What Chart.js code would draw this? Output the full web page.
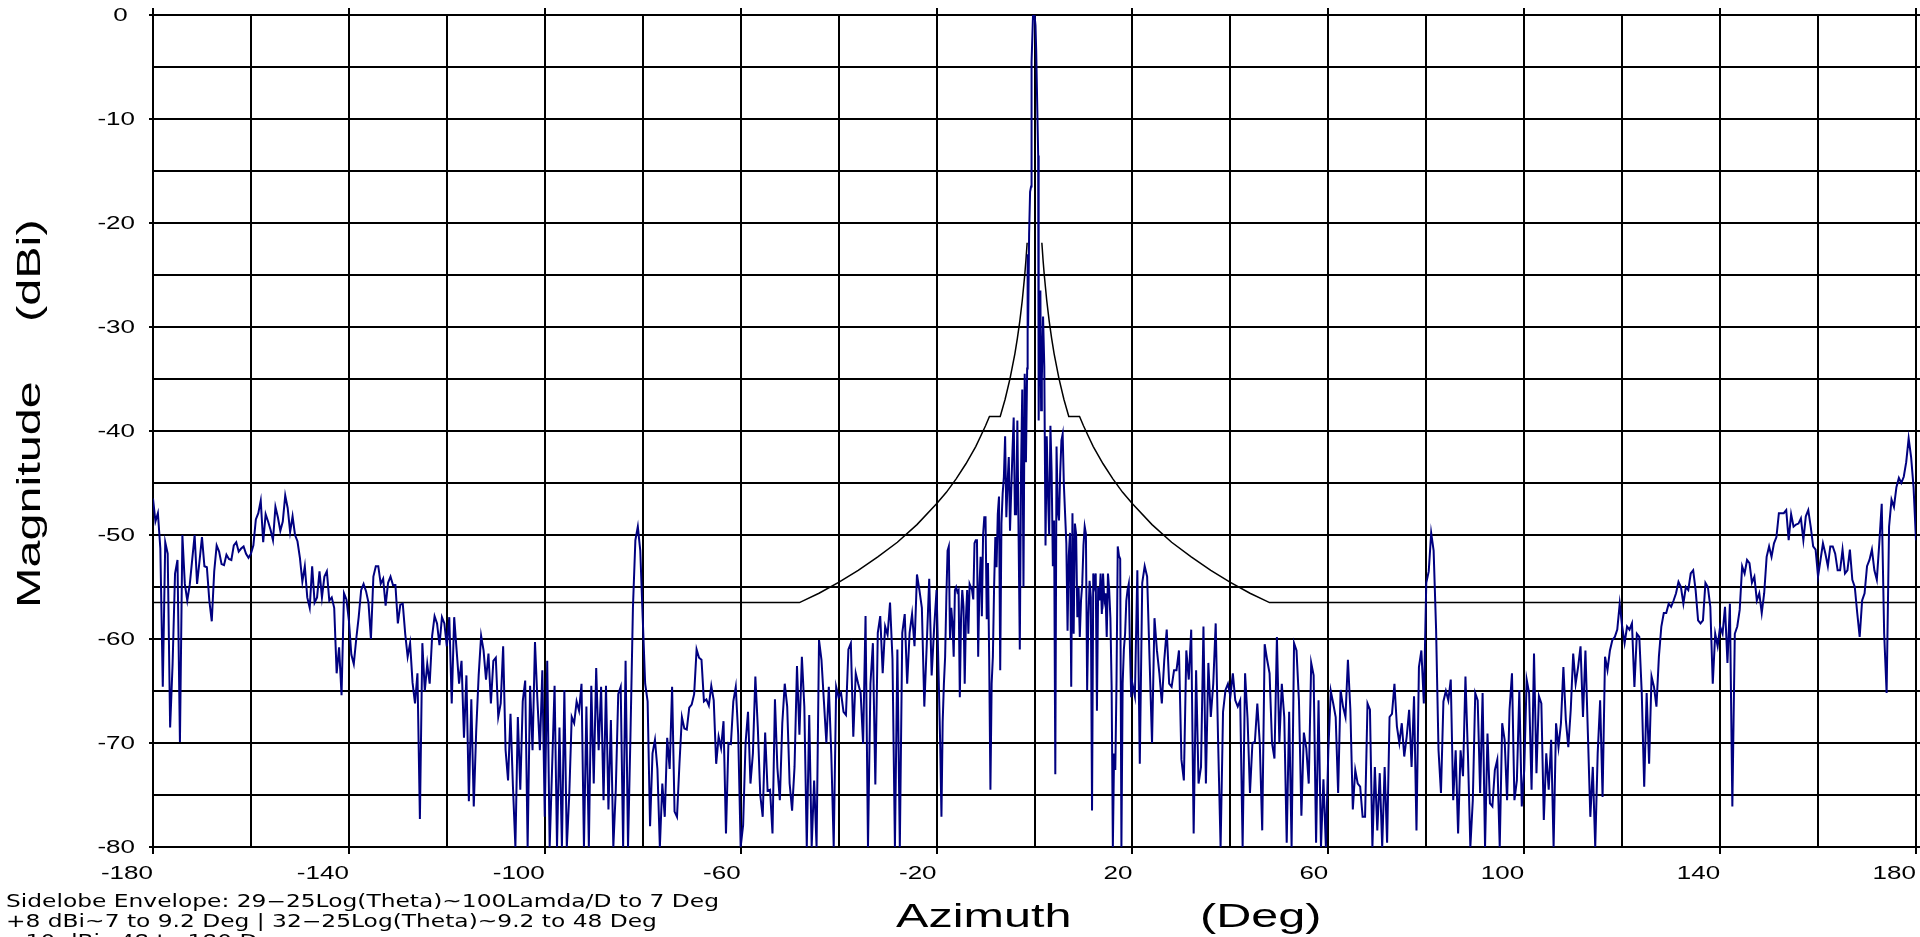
<!DOCTYPE html>
<html lang="en">
<head>
<meta charset="UTF-8">
<title>Azimuth pattern - Magnitude (dBi)</title>
<script src="https://cdn.jsdelivr.net/npm/chart.js@4.4.1/dist/chart.umd.min.js"></script>
<style>
  html, body { margin: 0; padding: 0; background: #fff; }
  canvas { display: block; }
</style>
</head>
<body>
<canvas id="grafico" width="1920" height="937"></canvas>
<script>
  // measured pattern, 0.5 deg samples from -180 to -20.5
  const leftStart = -180;
  const leftMag = [
    -46.5, -48.7, -47.9, -51.3, -64.6, -50.7, -51.8, -68.5, -62.4, -53.7,
    -52.4, -69.9, -50.0, -54.7, -56.3, -54.8, -52.4, -50.0, -54.7, -52.5,
    -50.2, -53.0, -53.1, -56.3, -58.3, -53.5, -51.0, -51.6, -52.8, -52.9,
    -51.9, -52.3, -52.4, -51.0, -50.7, -51.6, -51.3, -51.1, -51.8, -52.2,
    -51.8, -51.0, -48.5, -47.9, -46.7, -50.7, -48.0, -48.7, -49.5, -50.5,
    -47.3, -48.3, -49.6, -48.7, -46.2, -47.4, -49.7, -48.2, -50.0, -50.6,
    -52.2, -54.5, -53.0, -56.0, -57.0, -53.0, -56.5, -56.0, -53.5, -56.0,
    -54.0, -53.5, -56.3, -56.0, -57.0, -63.3, -60.8, -65.4, -55.6, -56.2,
    -58.2, -61.5, -62.4, -60.0, -57.9, -55.3, -54.7, -55.4, -56.5, -60.0,
    -54.0, -53.0, -53.0, -54.7, -54.2, -56.8, -54.6, -54.0, -54.8, -54.8,
    -58.5, -56.7, -56.6, -59.5, -61.7, -60.4, -64.2, -66.2, -63.3, -77.3,
    -60.4, -65.0, -62.4, -64.3, -59.7, -57.8, -58.5, -60.6, -57.9, -58.5,
    -60.7, -57.9, -66.2, -57.9, -61.1, -64.3, -62.1, -69.5, -63.5, -75.6,
    -65.8, -76.1, -68.8, -63.5, -59.7, -61.1, -63.9, -61.4, -66.2, -62.1,
    -61.8, -67.5, -66.2, -60.7, -70.7, -73.6, -67.2, -74.2, -80.0, -67.5,
    -74.5, -66.0, -64.0, -80.0, -64.5, -70.7, -60.3, -65.9, -70.7, -63.0,
    -77.1, -62.1, -80.0, -72.3, -64.5, -80.0, -68.5, -80.0, -64.9, -80.0,
    -75.0, -67.5, -68.1, -66.0, -66.9, -64.3, -80.0, -66.5, -80.0, -64.5,
    -73.9, -62.8, -70.7, -64.6, -75.5, -64.5, -76.4, -67.8, -80.0, -74.5,
    -65.3, -64.6, -80.0, -62.1, -80.0, -69.2, -57.0, -50.5, -49.2, -51.5,
    -58.0, -64.3, -66.0, -78.0, -71.0, -69.7, -72.5, -80.0, -73.9, -77.1,
    -69.5, -72.5, -64.6, -76.6, -77.1, -72.0, -67.5, -68.6, -68.7, -66.6,
    -66.3, -65.3, -61.0, -61.8, -62.0, -66.0, -65.8, -66.4, -64.5, -65.9,
    -72.0, -69.4, -70.5, -67.9, -78.7, -70.0, -70.1, -66.0, -64.6, -69.2,
    -80.0, -77.9, -70.0, -67.0, -73.9, -71.0, -63.6, -68.5, -75.0, -77.1,
    -69.0, -74.6, -74.5, -78.7, -65.8, -72.4, -75.5, -68.1, -64.3, -66.5,
    -73.9, -76.5, -72.3, -62.6, -69.2, -61.7, -66.5, -80.0, -67.3, -80.0,
    -73.6, -80.0, -60.1, -62.0, -66.0, -70.0, -64.6, -71.0, -80.0, -64.6,
    -65.6, -65.2, -67.0, -67.3, -61.0, -60.4, -69.4, -63.3, -64.3, -65.2,
    -70.1, -57.8, -80.0, -64.3, -60.4, -74.0, -59.4, -57.8, -63.3, -58.8,
    -59.6, -56.5, -61.9, -80.0, -61.0, -80.0, -59.4, -57.6, -64.3, -59.4,
    -57.6, -60.7, -53.8, -55.3, -57.0, -66.5, -60.5, -54.2, -63.5, -59.0
  ];

  // main beam region, finer samples
  const centerAz = [
    -20, -19.75, -19.5, -19.25, -19, -18.75, -18.5, -18.25, -18, -17.75,
    -17.5, -17.25, -17, -16.75, -16.5, -16.25, -16, -15.75, -15.5, -15.25,
    -15, -14.75, -14.5, -14.25, -14, -13.75, -13.5, -13.25, -13, -12.75,
    -12.5, -12.25, -12, -11.75, -11.5, -11.25, -11, -10.75, -10.5, -10.25,
    -10, -9.75, -9.5, -9.25, -9, -8.75, -8.5, -8.25, -8, -7.75,
    -7.5, -7.25, -7, -6.75, -6.5, -6.25, -6, -5.75, -5.5, -5.25,
    -5, -4.75, -4.5, -4.25, -4, -3.75, -3.5, -3.25, -3, -2.75,
    -2.5, -2.25, -2, -1.75, -1.5, -1.4, -1.3, -1.1, -0.9, -0.7,
    -0.6, -0.3, 0, 0.2, 0.35, 0.75, 0.85, 1, 1.2, 1.35,
    1.5, 1.75, 2, 2.25, 2.5, 2.75, 3, 3.25, 3.5, 3.75,
    4, 4.25, 4.5, 4.75, 5, 5.25, 5.5, 5.75, 6, 6.25,
    6.5, 6.75, 7, 7.25, 7.5, 7.75, 8, 8.25, 8.5, 8.75,
    9, 9.25, 9.5, 9.75, 10, 10.25, 10.5, 10.75, 11, 11.25,
    11.5, 11.75, 12, 12.25, 12.5, 12.75, 13, 13.25, 13.5, 13.75,
    14, 14.25, 14.5, 14.75, 15, 15.25, 15.5, 15.75, 16, 16.25,
    16.5, 16.75, 17, 17.25, 17.5, 17.75, 18, 18.25, 18.5, 18.75,
    19, 19.25, 19.5, 19.75, 20
  ];
  const centerMag = [
    -55.3, -60.1, -65.0, -70.3, -77.1, -68.0, -64.3, -61.7, -56.0, -51.5,
    -51.1, -60.1, -57.0, -58.5, -61.7, -55.3, -55.0, -55.5, -55.3, -65.6,
    -58.0, -55.3, -56.9, -64.3, -58.0, -55.3, -59.5, -54.7, -55.0, -55.3,
    -56.2, -50.8, -50.5, -50.5, -61.7, -55.0, -52.1, -57.8, -50.0, -48.3,
    -48.3, -58.1, -52.7, -62.0, -74.5, -64.3, -61.7, -55.0, -50.2, -53.1,
    -48.0, -46.3, -63.0, -48.9, -46.0, -44.4, -40.5, -48.3, -45.0, -42.5,
    -49.6, -45.7, -42.0, -38.7, -48.0, -48.0, -39.0, -50.0, -61.0, -44.0,
    -36.0, -55.0, -34.5, -43.0, -34.0, -23.0, -30.0, -21.0, -17.0, -16.5,
    -4.5, 0, 0, -1.0, -3.5, -13.5, -39.0, -30.0, -26.5, -38.0,
    -35.0, -29.0, -33.8, -51.0, -40.5, -46.0, -50.0, -39.5, -44.0, -53.0,
    -48.6, -73.0, -41.5, -47.6, -48.6, -44.0, -40.9, -40.3, -45.2, -48.0,
    -50.8, -59.2, -52.0, -49.8, -64.6, -47.9, -59.5, -48.9, -49.9, -57.9,
    -55.0, -59.8, -56.3, -54.7, -51.0, -49.2, -49.9, -64.9, -58.0, -54.4,
    -56.0, -76.5, -53.7, -54.7, -53.7, -66.9, -55.0, -56.3, -53.7, -57.6,
    -53.7, -56.3, -55.6, -59.8, -53.7, -55.3, -58.0, -64.6, -80.0, -71.0,
    -72.6, -64.0, -51.1, -52.0, -52.3, -80.0, -64.3, -61.0, -59.5, -56.3,
    -55.3, -54.7, -61.1, -65.6, -64.3
  ];

  // 0.5 deg samples from 20.5 to 180
  const rightStart = 20.5;
  const rightMag = [
    -65.5, -53.4, -72.0, -54.6, -53.0, -54.0, -62.0, -70.0, -58.0, -61.1,
    -63.3, -66.2, -62.0, -59.1, -64.3, -64.6, -63.0, -63.0, -61.1, -71.6,
    -73.6, -61.1, -63.9, -59.1, -78.7, -63.0, -73.9, -72.3, -58.8, -73.9,
    -62.3, -67.5, -64.3, -58.5, -70.0, -80.0, -67.0, -64.9, -64.3, -65.5,
    -63.3, -65.9, -66.5, -65.9, -80.0, -63.3, -67.6, -74.8, -70.0, -69.9,
    -66.2, -70.0, -78.4, -60.5, -62.0, -63.3, -70.0, -71.5, -59.8, -70.0,
    -64.3, -67.5, -79.6, -67.0, -80.0, -60.4, -61.1, -65.9, -77.0, -69.0,
    -70.5, -73.9, -62.3, -63.5, -79.6, -65.9, -80.0, -73.5, -80.0, -70.7,
    -65.0, -66.2, -67.5, -74.8, -64.9, -66.5, -67.5, -62.0, -66.8, -76.4,
    -72.6, -73.9, -74.2, -77.1, -77.1, -66.2, -66.8, -80.0, -72.3, -78.4,
    -72.9, -80.0, -72.3, -79.6, -67.5, -67.2, -64.3, -68.4, -70.0, -68.1,
    -71.3, -69.4, -66.8, -72.3, -65.5, -78.4, -62.7, -61.1, -66.2, -54.6,
    -53.5, -49.8, -51.5, -59.0, -70.7, -74.8, -66.0, -65.0, -65.9, -63.9,
    -75.5, -70.7, -78.7, -70.7, -73.2, -63.6, -71.0, -80.0, -75.5, -65.2,
    -65.9, -74.8, -65.2, -80.0, -69.1, -75.8, -76.1, -72.6, -71.6, -80.0,
    -68.1, -69.7, -75.5, -66.8, -63.3, -75.5, -73.6, -64.9, -76.1, -72.6,
    -63.9, -65.2, -74.5, -61.4, -72.9, -65.5, -66.2, -77.4, -71.0, -74.5,
    -69.7, -80.0, -68.1, -70.4, -68.1, -62.7, -67.8, -70.4, -66.8, -61.4,
    -64.3, -62.7, -60.7, -67.5, -61.1, -69.1, -77.1, -72.3, -80.0, -71.0,
    -65.9, -75.2, -61.7, -63.0, -61.1, -60.1, -59.8, -59.1, -56.6, -58.8,
    -60.4, -58.8, -59.1, -58.5, -64.6, -59.5, -59.8, -65.2, -74.2, -65.2,
    -72.0, -63.6, -64.6, -66.5, -61.7, -58.8, -57.5, -57.5, -56.6, -56.9,
    -56.3, -55.6, -54.5, -55.0, -56.6, -55.0, -55.3, -53.7, -53.4, -55.3,
    -58.2, -58.5, -58.2, -54.6, -55.0, -56.9, -64.3, -59.5, -60.7, -58.8,
    -59.5, -56.9, -62.3, -56.6, -76.1, -59.5, -58.8, -57.2, -53.0, -53.7,
    -52.4, -52.7, -54.6, -54.0, -56.3, -55.6, -57.5, -55.6, -52.1, -51.1,
    -52.1, -50.8, -50.2, -47.9, -47.9, -47.9, -47.6, -50.5, -48.0, -49.2,
    -49.0, -48.9, -48.4, -50.5, -48.2, -47.6, -49.2, -51.1, -51.4, -54.0,
    -52.4, -50.8, -51.8, -53.0, -51.1, -51.1, -51.8, -53.4, -53.4, -51.4,
    -53.7, -53.4, -51.4, -54.3, -55.0, -57.5, -59.8, -56.3, -55.6, -53.0,
    -52.4, -51.4, -53.4, -54.3, -50.8, -47.0, -59.5, -65.2, -49.2, -46.6,
    -47.3, -45.4, -44.5, -45.0, -44.4, -43.0, -40.7, -42.5, -45.4, -50.5
  ];
  const sampleStep = 0.5;

  // sidelobe envelope (relative to peak), gap over the main beam
  const envAz = [
    -180, -48, -44, -40, -36, -32, -28, -24, -20, -18, -16, -14, -12, -11, -10,
    -9.2, -7, -6, -5, -4, -3.5, -3, -2.5, -2, -1.75, -1.5,
    0,
    1.5, 1.75, 2, 2.5, 3, 3.5, 4, 5, 6, 7, 9.2,
    10, 11, 12, 14, 16, 18, 20, 24, 28, 32, 36, 40, 44, 48, 180
  ];
  const envMag = [
    -56.5, -56.5, -55.6, -54.55, -53.4, -52.1, -50.7, -49.0, -47.0, -45.9, -44.6, -43.15, -41.5, -40.5, -39.5,
    -38.6, -38.6, -36.95, -34.97, -32.55, -31.1, -29.43, -27.45, -25.03, -23.58, -21.9,
    null,
    -21.9, -23.58, -25.03, -27.45, -29.43, -31.1, -32.55, -34.97, -36.95, -38.6, -38.6,
    -39.5, -40.5, -41.5, -43.15, -44.6, -45.9, -47.0, -49.0, -50.7, -52.1, -53.4, -54.55, -55.6, -56.5, -56.5
  ];

  const xLabels = [-180, -140, -100, -60, -20, 20, 60, 100, 140, 180];
  const yLabels = [0, -10, -20, -30, -40, -50, -60, -70, -80];
  const xTitle = ['Azimuth', '(Deg)'];
  const yTitle = ['Magnitude', '(dBi)'];
  const noteLines = [
    'Sidelobe Envelope: 29\u221225Log(Theta)~100Lamda/D to 7 Deg',
    '+8 dBi~7 to 9.2 Deg | 32\u221225Log(Theta)~9.2 to 48 Deg',
    '\u221210 dBi~48 to 180 Deg'
  ];

  let pattern = [];
  leftMag.forEach((v, i) => pattern.push({ x: leftStart + i * sampleStep, y: v }));
  centerAz.forEach((a, i) => pattern.push({ x: a, y: centerMag[i] }));
  rightMag.forEach((v, i) => pattern.push({ x: rightStart + i * sampleStep, y: v }));

  let envelope = envAz.map((a, i) => ({ x: a, y: envMag[i] }));

  // text drawn a bit wider than the font, like the original plot
  function wideText(ctx, text, px, py, sx, align, baseline) {
    ctx.save();
    ctx.translate(px, py);
    ctx.scale(sx, 1);
    ctx.textAlign = align;
    ctx.textBaseline = baseline;
    ctx.fillText(text, 0, 0);
    ctx.restore();
  }

  const extras = {
    id: 'extras',
    beforeDatasetsDraw(chart) {
      const { ctx, chartArea: a, scales: { x, y } } = chart;
      ctx.save();
      ctx.strokeStyle = '#000';
      ctx.lineWidth = 2;
      ctx.beginPath();
      xLabels.forEach(v => {
        let px = Math.round(x.getPixelForValue(v));
        ctx.moveTo(px, a.top - 7);
        ctx.lineTo(px, a.top);
      });
      for (let v = -80; v <= 0; v += 5) {
        let py = Math.round(y.getPixelForValue(v));
        ctx.moveTo(a.right, py);
        ctx.lineTo(a.right + 4, py);
      }
      ctx.stroke();
      ctx.restore();
    },
    afterDraw(chart) {
      const { ctx, scales: { x, y } } = chart;
      ctx.save();
      ctx.fillStyle = '#000';

      ctx.font = '17.7px "Liberation Sans", Arial, sans-serif';
      xLabels.forEach(v => wideText(ctx, String(v), x.getPixelForValue(v), 879, 1.47, 'right', 'alphabetic'));
      yLabels.forEach(v => wideText(ctx, v === 0 ? '0 ' : String(v), 135, y.getPixelForValue(v) + 6.3, 1.47, 'right', 'alphabetic'));

      ctx.font = '33.5px "Liberation Sans", Arial, sans-serif';
      wideText(ctx, xTitle[0], 896, 927, 1.45, 'left', 'alphabetic');
      wideText(ctx, xTitle[1], 1200, 927, 1.45, 'left', 'alphabetic');

      ctx.save();
      ctx.translate(40, 608);
      ctx.rotate(-Math.PI / 2);
      wideText(ctx, yTitle[0], 0, 0, 1.45, 'left', 'alphabetic');
      ctx.restore();
      ctx.save();
      ctx.translate(40, 322);
      ctx.rotate(-Math.PI / 2);
      wideText(ctx, yTitle[1], 0, 0, 1.45, 'left', 'alphabetic');
      ctx.restore();

      ctx.font = '17px "DejaVu Sans", sans-serif';
      let sx = 713 / ctx.measureText(noteLines[0]).width;
      noteLines.forEach((t, i) => wideText(ctx, t, 6, 907 + i * 20, sx, 'left', 'alphabetic'));
      ctx.restore();
    }
  };

  const gridColor = list => c => (c.tick && list.includes(c.tick.value)) ? '#000' : 'rgba(0,0,0,0)';

  new Chart(document.getElementById('grafico').getContext('2d'), {
    type: 'line',
    data: {
      datasets: [
        { label: 'Pattern', data: pattern, borderColor: '#000080', borderWidth: 2, pointRadius: 0, tension: 0 },
        { label: 'Envelope', data: envelope, borderColor: '#000', borderWidth: 1.5, pointRadius: 0, tension: 0, spanGaps: false }
      ]
    },
    options: {
      responsive: false,
      animation: false,
      devicePixelRatio: 1,
      layout: { padding: { top: 15, right: 4, left: 0, bottom: 0 } },
      plugins: { legend: { display: false }, tooltip: { enabled: false } },
      scales: {
        x: {
          type: 'linear', min: -180, max: 180,
          afterFit: s => { s.height = 90; },
          ticks: { display: false, stepSize: 20 },
          grid: { color: '#000', lineWidth: 2, tickLength: 7, tickWidth: 2, tickColor: gridColor(xLabels) },
          border: { color: '#000', width: 2 }
        },
        y: {
          type: 'linear', min: -80, max: 0,
          afterFit: s => { s.width = 153; },
          ticks: { display: false, stepSize: 5 },
          grid: { color: '#000', lineWidth: 2, tickLength: 4, tickWidth: 2, tickColor: gridColor(yLabels) },
          border: { color: '#000', width: 2 }
        }
      }
    },
    plugins: [extras]
  });
</script>
</body>
</html>
